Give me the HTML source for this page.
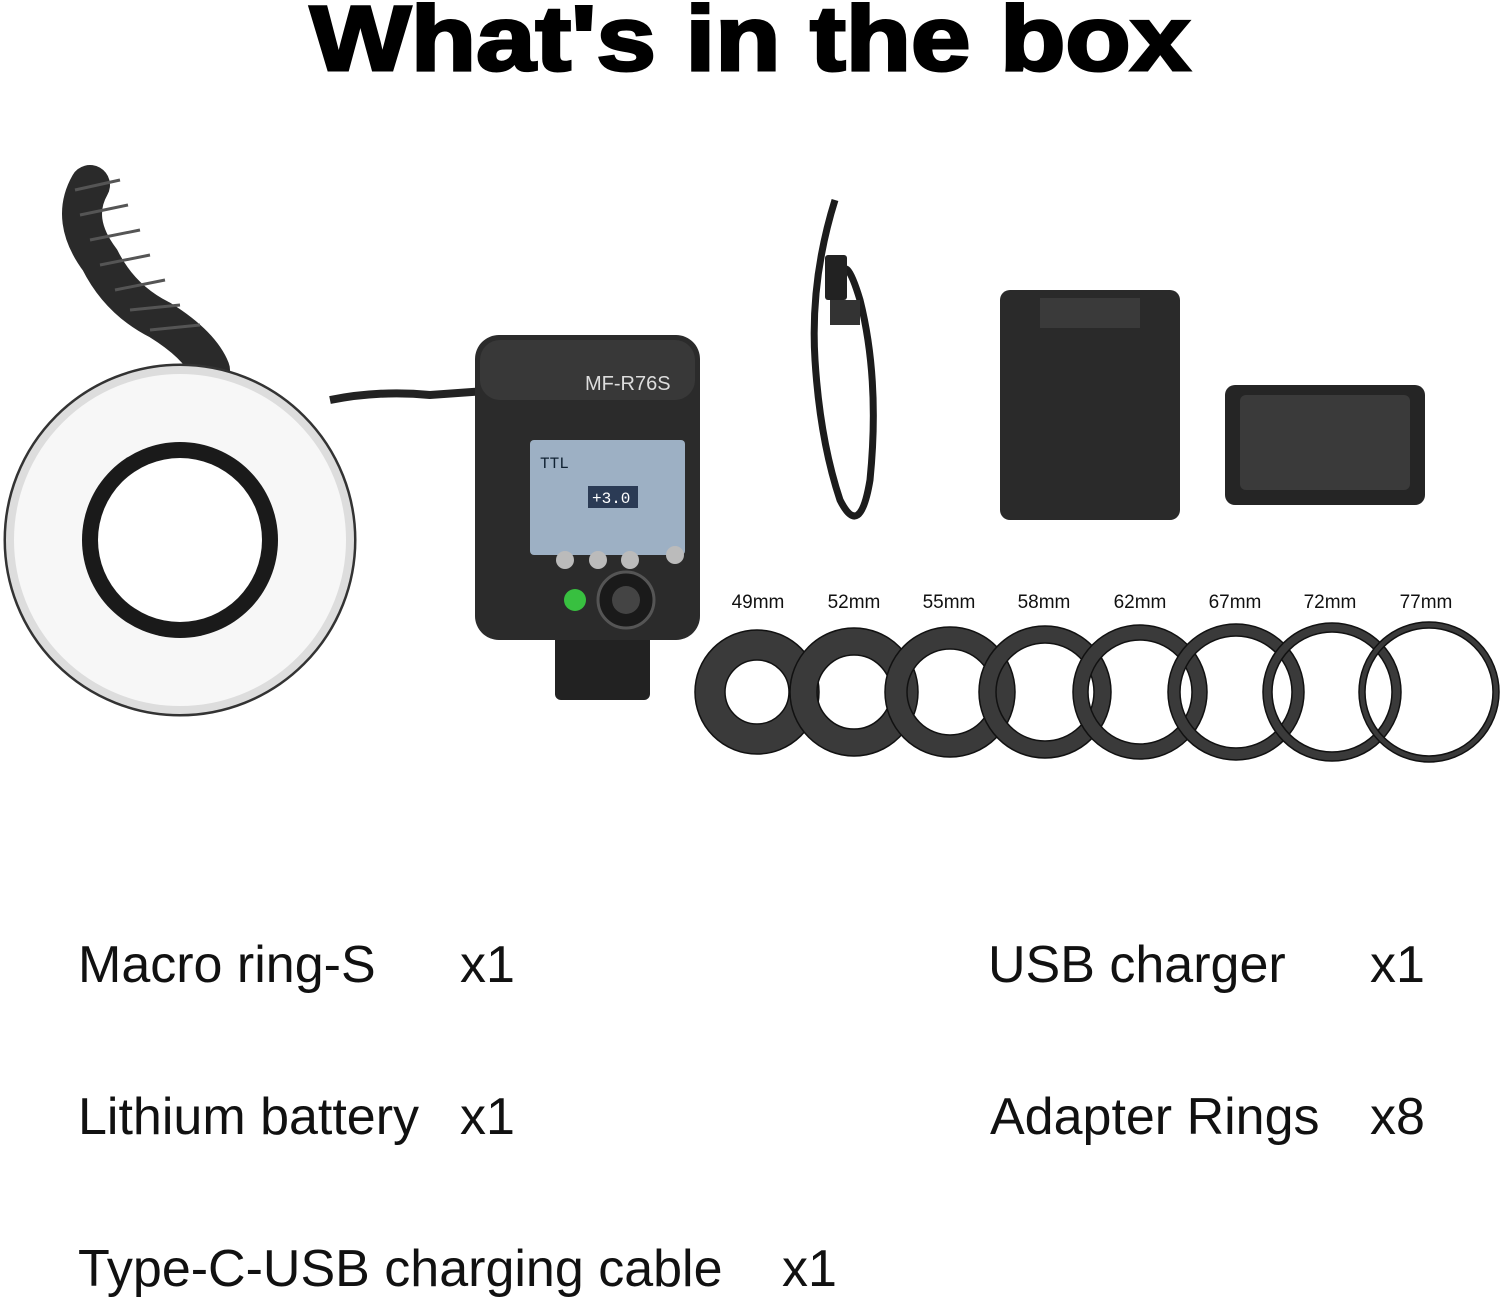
<!DOCTYPE html>
<html><head><meta charset="utf-8"><style>
html,body{margin:0;padding:0;background:#fff;}
body{width:1500px;height:1302px;position:relative;overflow:hidden;font-family:"Liberation Sans",sans-serif;}
.t{position:absolute;font-size:52px;color:#111;white-space:nowrap;}
</style></head><body>
<svg width="1500" height="1302" style="position:absolute;left:0;top:0">
<text x="310" y="70" textLength="880" lengthAdjust="spacingAndGlyphs" font-family="Liberation Sans" font-weight="900" font-size="92" fill="#000" stroke="#000" stroke-width="3">What's in the box</text>
<!-- coil cable -->
<path d="M90 185 Q70 220 100 260 Q120 300 160 320 Q200 345 210 370" stroke="#2a2a2a" stroke-width="40" fill="none" stroke-linecap="round"/>
<path d="M75 190 L120 180 M80 215 L128 205 M90 240 L140 230 M100 265 L150 255 M115 290 L165 280 M130 310 L180 305 M150 330 L200 325" stroke="#555" stroke-width="3"/>
<path d="M330 400 Q380 390 430 395 L500 390" stroke="#222" stroke-width="8" fill="none"/>
<!-- ring light -->
<circle cx="180" cy="540" r="175" fill="#f7f7f7" stroke="#333" stroke-width="3"/>
<circle cx="180" cy="540" r="170" fill="none" stroke="#ddd" stroke-width="8"/>
<circle cx="180" cy="540" r="98" fill="#1a1a1a"/>
<circle cx="180" cy="540" r="82" fill="#fff"/>
<!-- flash unit -->
<rect x="555" y="630" width="95" height="70" rx="6" fill="#222"/>
<rect x="475" y="335" width="225" height="305" rx="24" fill="#2b2b2b"/>
<rect x="480" y="340" width="215" height="60" rx="20" fill="#383838"/>
<text x="585" y="390" font-family="Liberation Sans" font-size="20" fill="#ddd">MF-R76S</text>
<rect x="530" y="440" width="155" height="115" rx="4" fill="#9db0c4"/>
<text x="540" y="468" font-family="Liberation Mono" font-size="16" fill="#123">TTL</text>
<rect x="588" y="486" width="50" height="22" fill="#2b3b55"/>
<text x="592" y="503" font-family="Liberation Mono" font-size="16" fill="#fff">+3.0</text>
<circle cx="565" cy="560" r="9" fill="#bbb"/><circle cx="598" cy="560" r="9" fill="#bbb"/><circle cx="630" cy="560" r="9" fill="#bbb"/><circle cx="675" cy="555" r="9" fill="#bbb"/>
<circle cx="575" cy="600" r="11" fill="#38c040"/>
<circle cx="626" cy="600" r="28" fill="#1a1a1a" stroke="#555" stroke-width="3"/>
<circle cx="626" cy="600" r="14" fill="#444"/>
<!-- usb cable -->
<path d="M835 200 Q810 280 815 360 Q820 440 840 500 Q860 540 870 480 Q880 380 860 300 Q845 250 840 280" stroke="#1c1c1c" stroke-width="7" fill="none"/>
<rect x="825" y="255" width="22" height="45" rx="3" fill="#222"/>
<rect x="830" y="300" width="30" height="25" fill="#333"/>
<!-- battery -->
<rect x="1000" y="290" width="180" height="230" rx="10" fill="#2a2a2a"/>
<rect x="1040" y="298" width="100" height="30" fill="#3a3a3a"/>
<!-- charger -->
<rect x="1225" y="385" width="200" height="120" rx="10" fill="#252525"/>
<rect x="1240" y="395" width="170" height="95" rx="6" fill="#3a3a3a"/>
<!-- adapter rings -->
<g font-family="Liberation Sans" font-size="19" fill="#111" text-anchor="middle">
<text x="758" y="608">49mm</text><text x="854" y="608">52mm</text><text x="949" y="608">55mm</text><text x="1044" y="608">58mm</text><text x="1140" y="608">62mm</text><text x="1235" y="608">67mm</text><text x="1330" y="608">72mm</text><text x="1426" y="608">77mm</text>
</g>
<g fill="#3a3a3a" fill-rule="evenodd" stroke="#111" stroke-width="1.5">
<path d="M695 692a62 62 0 1 0 124 0a62 62 0 1 0 -124 0Z M725 692a32 32 0 1 0 64 0a32 32 0 1 0 -64 0Z"/>
<path d="M790 692a64 64 0 1 0 128 0a64 64 0 1 0 -128 0Z M817 692a37 37 0 1 0 74 0a37 37 0 1 0 -74 0Z"/>
<path d="M885 692a65 65 0 1 0 130 0a65 65 0 1 0 -130 0Z M907 692a43 43 0 1 0 86 0a43 43 0 1 0 -86 0Z"/>
<path d="M979 692a66 66 0 1 0 132 0a66 66 0 1 0 -132 0Z M996 692a49 49 0 1 0 98 0a49 49 0 1 0 -98 0Z"/>
<path d="M1073 692a67 67 0 1 0 134 0a67 67 0 1 0 -134 0Z M1088 692a52 52 0 1 0 104 0a52 52 0 1 0 -104 0Z"/>
<path d="M1168 692a68 68 0 1 0 136 0a68 68 0 1 0 -136 0Z M1180 692a56 56 0 1 0 112 0a56 56 0 1 0 -112 0Z"/>
<path d="M1263 692a69 69 0 1 0 138 0a69 69 0 1 0 -138 0Z M1272 692a60 60 0 1 0 120 0a60 60 0 1 0 -120 0Z"/>
<path d="M1359 692a70 70 0 1 0 140 0a70 70 0 1 0 -140 0Z M1365 692a64 64 0 1 0 128 0a64 64 0 1 0 -128 0Z"/>
</g>
</svg>
<div class="t" style="left:78px;top:935px">Macro ring-S</div>
<div class="t" style="left:460px;top:935px">x1</div>
<div class="t" style="left:988px;top:935px">USB charger</div>
<div class="t" style="left:1370px;top:935px">x1</div>
<div class="t" style="left:78px;top:1087px">Lithium battery</div>
<div class="t" style="left:460px;top:1087px">x1</div>
<div class="t" style="left:990px;top:1087px">Adapter Rings</div>
<div class="t" style="left:1370px;top:1087px">x8</div>
<div class="t" style="left:78px;top:1239px">Type-C-USB charging cable</div>
<div class="t" style="left:782px;top:1239px">x1</div>
</body></html>
